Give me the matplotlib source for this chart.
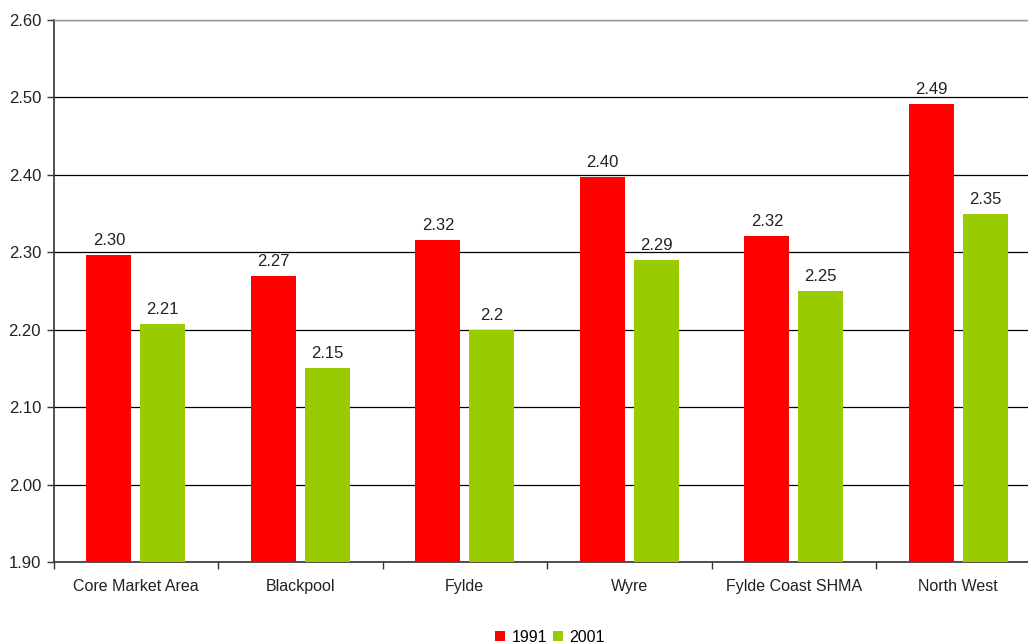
import matplotlib
matplotlib.use("Agg")
import matplotlib.pyplot as plt
import numpy as np

categories = ["Core Market Area", "Blackpool", "Fylde", "Wyre", "Fylde Coast SHMA", "North West"]
series_names = ["1991", "2001"]
values_1991 = [2.297, 2.270, 2.316, 2.397, 2.321, 2.492]
values_2001 = [2.208, 2.150, 2.200, 2.290, 2.250, 2.350]
labels_1991 = ["2.30", "2.27", "2.32", "2.40", "2.32", "2.49"]
labels_2001 = ["2.21", "2.15", "2.2", "2.29", "2.25", "2.35"]
yticks = [1.90, 2.00, 2.10, 2.20, 2.30, 2.40, 2.50, 2.60]

plt.rcParams['font.family'] = ['Liberation Sans', 'DejaVu Sans']

fig = plt.figure(figsize=(10.28, 6.43), dpi=100)
L, R = 53.5, 1040.5
ax = fig.add_axes([L/1028, 81/643, (R-L)/1028, (562-20)/643])

x = np.arange(len(categories))
w = 0.274
off = 0.163
red = "#ff0000"
green = "#99cc00"
b1 = ax.bar(x - off, values_1991, w, color=red, label=series_names[0], zorder=3)
b2 = ax.bar(x + off, values_2001, w, color=green, label=series_names[1], zorder=3)

for rects, labs in ((b1, labels_1991), (b2, labels_2001)):
    for r, lab in zip(rects, labs):
        ax.text(r.get_x() + r.get_width()/2, r.get_height() + 0.009, lab,
                ha="center", va="bottom", fontsize=12, color="#222222")

ax.set_ylim(1.90, 2.60)
ax.set_xlim(-0.5, len(categories) - 0.5)
ax.set_yticks(yticks)
ax.set_yticklabels([f"{t:.2f}" for t in yticks], fontsize=12, color="#222222")
ax.yaxis.grid(True, color="#000000", linewidth=0.9, zorder=0)
ax.set_axisbelow(True)

ax.set_xticks(x)
ax.set_xticklabels(categories, fontsize=11.5, color="#222222")
ax.tick_params(axis="x", which="major", length=0, pad=12)
ax.set_xticks(np.arange(len(categories) + 1) - 0.5, minor=True)
ax.tick_params(axis="x", which="minor", length=5, width=1, color="#333333", direction="out")
ax.tick_params(axis="y", length=5, width=1, color="#333333", direction="out", pad=4)

for s in ["left", "bottom"]:
    ax.spines[s].set_color("#333333")
    ax.spines[s].set_linewidth(1.2)
ax.spines["right"].set_visible(False)
ax.spines["top"].set_color("#999999")
ax.spines["top"].set_linewidth(1.0)

leg = fig.legend(handles=[b1, b2], labels=series_names, loc="center",
                 bbox_to_anchor=(550/1028, 1 - 637/643), ncol=2, frameon=False,
                 fontsize=11.5, handlelength=0.6, handleheight=0.6, handletextpad=0.4,
                 columnspacing=0.4)

fig.savefig("out.png", dpi=100)
